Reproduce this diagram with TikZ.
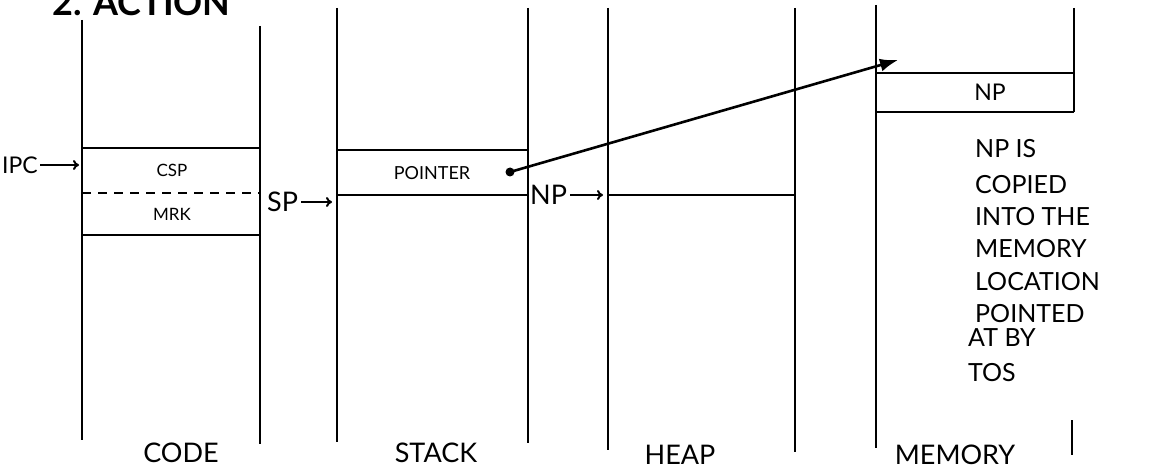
\documentclass[tikz,border=0pt]{standalone}
\usepackage{fontspec}
\setmainfont{Lato}
\usetikzlibrary{arrows.meta}
\begin{document}
\begin{tikzpicture}[x=1pt,y=-1pt,
  wall/.style={line width=2pt},
  cell/.style={line width=2.4pt},
  big/.style={font=\fontsize{27}{29}\selectfont, inner sep=0pt},
  mid/.style={font=\fontsize{23}{25}\selectfont, inner sep=0pt},
  small/.style={font=\fontsize{17}{19}\selectfont, inner sep=0pt},
  ptr/.style={line width=2pt, -{To[length=6pt,width=10pt]}},
  bigptr/.style={line width=2.6pt, -{Latex[length=18pt,width=13pt]}},
  note/.style={font=\fontsize{25}{27}\selectfont, inner sep=0pt, anchor=base west}]
\useasboundingbox (0,0) rectangle (1153,470);
% title
\node[font=\bfseries\fontsize{36}{38}\selectfont, anchor=base west, inner sep=0pt] (title) at (52,16) {2. ACTION};
% column walls
\draw[wall] (82,20) -- (82,440);
\draw[wall] (260,26) -- (260,444);
\draw[wall] (337,8) -- (337,442);
\draw[wall] (528,8) -- (528,443);
\draw[wall] (608,8) -- (608,450);
\draw[wall] (795,8) -- (795,452);
\draw[wall] (876,5) -- (876,448);
\draw[wall] (1074,8) -- (1074,112);
\draw[wall] (1072,420) -- (1072,455);
% code column
\draw[cell] (82,148) -- (260,148);
\draw[cell, dash pattern=on 9pt off 7pt] (82,193) -- (260,193);
\draw[cell] (82,235) -- (260,235);
\node[small] (csp) at (172,170) {CSP};
\node[small] (mrk) at (172,214) {MRK};
\node[mid, anchor=west] (ipc) at (2,165) {IPC};
\draw[ptr] (ipc.east) ++(2,0) -- (79,165);
% stack column
\draw[cell] (337,150) -- (528,150);
\draw[cell] (337,195) -- (528,195);
\node[font=\fontsize{18}{20}\selectfont, inner sep=0pt] (pointer) at (432,173) {POINTER};
\node[big, anchor=west] (sp) at (267,202) {SP};
\draw[ptr] (sp.east) ++(3,0) -- (332,202);
% heap column
\draw[cell] (608,195) -- (795,195);
\node[big, anchor=west] (np) at (530,195) {NP};
\draw[ptr] (np.east) ++(3,0) -- (603,195);
% memory column
\draw[cell] (876,73) -- (1074,73);
\draw[cell] (876,112) -- (1074,112);
\node[mid] (npmem) at (990,92) {NP};
% pointer arrow
\coordinate (dot) at (510,172);
\coordinate (target) at (898,60);
\fill (dot) circle (4.5pt);
\draw[bigptr] (dot) -- (target);
% note
\node[note] (n1) at (975,158) {NP IS};
\node[note] (n2) at (975,194) {COPIED};
\node[note] (n3) at (975,226) {INTO THE};
\node[note] (n4) at (975,258) {MEMORY};
\node[note] (n5) at (975,290) {LOCATION};
\node[note] (n6) at (975,322) {POINTED};
\node[note] (n7) at (968,346) {AT BY};
\node[note] (n8) at (968,381) {TOS};
% bottom labels
\node[big] (lcode) at (181,453) {CODE};
\node[big] (lstack) at (436,453) {STACK};
\node[big] (lheap) at (680,455) {HEAP};
\node[big] (lmem) at (955,455) {MEMORY};
\end{tikzpicture}
\end{document}
